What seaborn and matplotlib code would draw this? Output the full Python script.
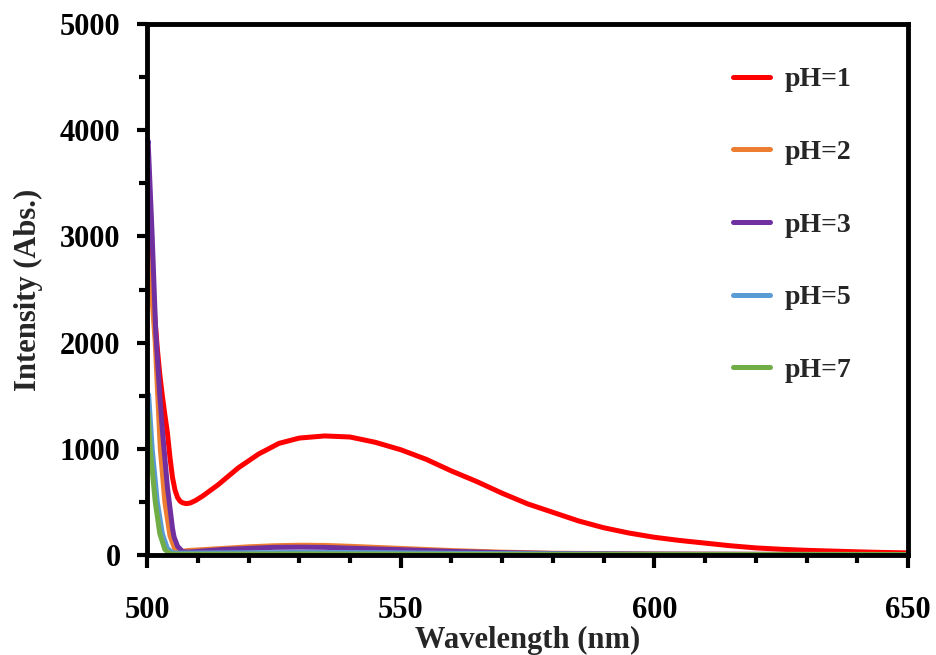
import numpy as np
import pandas as pd
import matplotlib
matplotlib.use("Agg")
import matplotlib.pyplot as plt
import seaborn as sns
from matplotlib.ticker import MultipleLocator

# wavelength (nm) / intensity
wl_ph1 = [500, 500.5, 501, 501.5, 502, 502.5, 503, 503.5, 504, 504.5, 505, 505.5, 506, 506.5, 507,
          507.7, 508.5, 509.5, 511, 514, 518, 522, 526,
          530, 535, 540, 545, 550, 555, 560, 565, 570, 575, 580, 585, 590, 595, 600, 605, 610,
          615, 620, 625, 630, 635, 640, 645, 650]
int_ph1 = [3520, 3050, 2600, 2250, 1950, 1700, 1500, 1320, 1150, 920, 730, 610, 540, 505, 490,
           482, 488, 510, 555, 660, 820, 950, 1050,
           1100, 1120, 1110, 1060, 990, 900, 790, 690, 580, 480, 400, 320, 255, 205, 165, 135, 110,
           85, 65, 52, 42, 35, 28, 22, 18]

wl_ph2 = [500, 500.5, 501, 501.6, 502.6, 503.5, 504.5, 505.5, 507, 508, 515, 520, 525, 530, 535,
          540, 550, 560, 570, 580, 600, 620, 650]
int_ph2 = [2900, 2650, 2400, 2000, 1000, 500, 180, 50, 32, 40, 60, 75, 85, 90, 88,
           80, 60, 40, 25, 15, 8, 5, 3]

wl_ph3 = [500, 500.2, 501, 501.7, 502.5, 503, 504, 505, 505.3, 506, 507, 508, 515, 520, 525, 530,
          535, 540, 550, 560, 570, 580, 600, 620, 650]
int_ph3 = [3850, 3900, 3000, 2100, 1500, 1180, 640, 250, 170, 80, 30, 25, 50, 60, 70, 72,
           70, 62, 48, 32, 20, 12, 6, 4, 2]

wl_ph5 = [500, 500.3, 501, 502, 503, 504, 505, 506, 515, 530, 545, 560, 580, 600, 650]
int_ph5 = [1480, 1510, 1000, 500, 200, 60, 20, 15, 18, 22, 20, 14, 8, 4, 2]

wl_ph7 = [500, 500.2, 500.6, 501.6, 502.5, 503.5, 504.5, 505.5, 530, 560, 600, 650]
int_ph7 = [1320, 1340, 1000, 500, 200, 50, 10, 5, 8, 5, 3, 2]

labels = ["pH=1", "pH=2", "pH=3", "pH=5", "pH=7"]
colors = ["#FF0000", "#ED7D31", "#7030A0", "#5B9BD5", "#70AD47"]

frames = []
for lab, w, v in zip(labels, [wl_ph1, wl_ph2, wl_ph3, wl_ph5, wl_ph7],
                     [int_ph1, int_ph2, int_ph3, int_ph5, int_ph7]):
    frames.append(pd.DataFrame({"Wavelength": w, "Intensity": v, "pH": lab}))
df = pd.concat(frames, ignore_index=True)

sns.set_style("ticks")
plt.rcParams["font.family"] = ["Liberation Serif", "DejaVu Serif"]
plt.rcParams["font.weight"] = "bold"

fig = plt.figure(figsize=(9.37, 6.55), dpi=100)
ax = fig.add_axes([0.157, 0.153, 0.812, 0.810])

sns.lineplot(data=df, x="Wavelength", y="Intensity", hue="pH", hue_order=labels,
             palette=dict(zip(labels, colors)), estimator=None, sort=False,
             linewidth=3.6, ax=ax)

ax.set_xlim(500, 650)
ax.set_ylim(0, 5000)
ax.xaxis.set_major_locator(MultipleLocator(50))
ax.xaxis.set_minor_locator(MultipleLocator(10))
ax.yaxis.set_major_locator(MultipleLocator(1000))
ax.yaxis.set_minor_locator(MultipleLocator(500))

for s in ax.spines.values():
    s.set_linewidth(3.5)
    s.set_color("black")

ax.tick_params(axis="both", which="both", direction="out", width=3, colors="black",
               top=False, right=False)
ax.tick_params(axis="y", which="major", length=7, pad=12, labelsize=22)
ax.tick_params(axis="y", which="minor", length=6)
ax.tick_params(axis="x", which="major", length=9, pad=21, labelsize=22)
ax.tick_params(axis="x", which="minor", length=6)
for t in ax.get_xticklabels() + ax.get_yticklabels():
    t.set_fontweight("bold")

ax.set_xlabel("Wavelength (nm)", fontsize=22, fontweight="bold", labelpad=0)
ax.set_ylabel("Intensity (Abs.)", fontsize=22, fontweight="bold", labelpad=12)

handles, labs = ax.get_legend_handles_labels()
ax.legend(handles, labs, loc="upper left", bbox_to_anchor=(733 / 937, 1 - 67 / 655),
          bbox_transform=fig.transFigure, frameon=False, borderpad=0, borderaxespad=0,
          handlelength=1.35, handletextpad=0.5, labelspacing=1.7,
          prop={"family": "Liberation Serif", "weight": "bold", "size": 20})

fig.savefig("out.png", dpi=100)
